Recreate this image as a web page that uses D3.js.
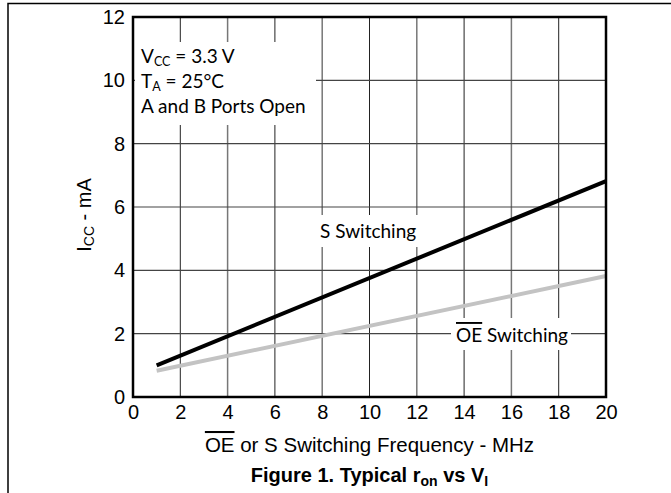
<!DOCTYPE html>
<html>
<head>
<meta charset="utf-8">
<script src="https://cdn.jsdelivr.net/npm/d3@7"></script>
<style>
  body { margin: 0; background: #fff; }
  svg { display: block; }
</style>
</head>
<body>
<div id="chart"></div>
<script>
// Data
const freq = [1, 20];                 // MHz
const sSwitching = [1.0, 6.82];       // mA
const oeSwitching = [0.83, 3.82];     // mA
const xTicks = [0, 2, 4, 6, 8, 10, 12, 14, 16, 18, 20];
const yTicks = [0, 2, 4, 6, 8, 10, 12];

const width = 671, height = 493;
const margin = { top: 17, right: 65, bottom: 96, left: 133 };

const svg = d3.select('#chart').append('svg')
    .attr('width', width)
    .attr('height', height);

// outer frame (top and left only)
svg.append('path')
    .attr('d', `M8,${height} L8,3.5 L${width},3.5`)
    .attr('fill', 'none')
    .attr('stroke', '#000')
    .attr('stroke-width', 1.5);

const x = d3.scaleLinear().domain([0, 20]).range([margin.left, width - margin.right]);
const y = d3.scaleLinear().domain([0, 12]).range([height - margin.bottom, margin.top]);

const sans = 'Liberation Sans, Arial, sans-serif';
const cal = 'Lato, Open Sans, sans-serif';

// grid
const grid = svg.append('g');
grid.selectAll('line.v')
    .data(xTicks.slice(1, -1))
    .enter().append('line')
    .attr('x1', d => x(d)).attr('x2', d => x(d))
    .attr('y1', y(0)).attr('y2', y(12))
    .attr('stroke', (d, i) => i % 2 ? '#777' : '#222')
    .attr('stroke-width', (d, i) => i % 2 ? 1.5 : 1);
grid.selectAll('line.h')
    .data(yTicks.slice(1, -1))
    .enter().append('line')
    .attr('x1', x(0)).attr('x2', x(20))
    .attr('y1', d => y(d)).attr('y2', d => y(d))
    .attr('stroke', '#444')
    .attr('stroke-width', 1.2);

// data lines
const line = d3.line().x(d => x(d[0])).y(d => y(d[1]));
svg.append('path')
    .datum(freq.map((f, i) => [f, oeSwitching[i]]))
    .attr('d', line)
    .attr('fill', 'none')
    .attr('stroke', '#c3c3c3')
    .attr('stroke-width', 4);
svg.append('path')
    .datum(freq.map((f, i) => [f, sSwitching[i]]))
    .attr('d', line)
    .attr('fill', 'none')
    .attr('stroke', '#000')
    .attr('stroke-width', 4);

// white boxes behind annotations
svg.append('rect').attr('x', x(0) + 2).attr('y', 42).attr('width', 181).attr('height', 83).attr('fill', '#fff');
svg.append('rect').attr('x', 316).attr('y', 215).attr('width', 104).attr('height', 32).attr('fill', '#fff');
svg.append('rect').attr('x', 451).attr('y', 318).attr('width', 120).attr('height', 32).attr('fill', '#fff');

// plot frame
svg.append('rect')
    .attr('x', x(0)).attr('y', y(12))
    .attr('width', x(20) - x(0)).attr('height', y(0) - y(12))
    .attr('fill', 'none')
    .attr('stroke', '#000')
    .attr('stroke-width', 2.5);

// axes
const xAxis = svg.append('g')
    .attr('transform', `translate(0,${y(0)})`)
    .call(d3.axisBottom(x).tickValues(xTicks).tickSize(0).tickPadding(8));
const yAxis = svg.append('g')
    .attr('transform', `translate(${x(0)},0)`)
    .call(d3.axisLeft(y).tickValues(yTicks).tickSize(0).tickPadding(8));
[xAxis, yAxis].forEach(a => {
    a.select('.domain').remove();
    a.selectAll('text')
        .attr('font-family', sans)
        .attr('font-size', 20)
        .attr('fill', '#000');
});

// y axis title
const yt = svg.append('text')
    .attr('transform', `translate(91,${(y(0) + y(12)) / 2 + 8}) rotate(-90)`)
    .attr('text-anchor', 'middle')
    .attr('font-family', sans)
    .attr('font-size', 20);
yt.append('tspan').text('I');
yt.append('tspan').text('CC').attr('font-size', 14).attr('dy', 3);
yt.append('tspan').text(' - mA').attr('dy', -3);

// x axis title
const xt = svg.append('text')
    .attr('x', (x(0) + x(20)) / 2)
    .attr('y', 452)
    .attr('text-anchor', 'middle')
    .attr('font-family', sans)
    .attr('font-size', 20.5);
xt.append('tspan').text('OE').style('text-decoration', 'overline');
xt.append('tspan').text(' or S Switching Frequency - MHz');

// caption
const cap = svg.append('text')
    .attr('x', (x(0) + x(20)) / 2)
    .attr('y', 482)
    .attr('text-anchor', 'middle')
    .attr('font-family', sans)
    .attr('font-weight', 'bold')
    .attr('font-size', 20);
cap.append('tspan').text('Figure 1. Typical r');
cap.append('tspan').text('on').attr('font-size', 14).attr('dy', 4);
cap.append('tspan').text(' vs V').attr('dy', -4);
cap.append('tspan').text('I').attr('font-size', 14).attr('dy', 4);

// conditions annotation
const ann = svg.append('g').attr('font-family', cal).attr('font-size', 19).attr('fill', '#000');
const a1 = ann.append('text').attr('x', 141).attr('y', 63);
a1.append('tspan').text('V');
a1.append('tspan').text('CC').attr('font-size', 12.5).attr('dy', 3);
a1.append('tspan').text(' = 3.3 V').attr('dy', -3);
const a2 = ann.append('text').attr('x', 141).attr('y', 88);
a2.append('tspan').text('T');
a2.append('tspan').text('A').attr('font-size', 12.5).attr('dy', 3);
a2.append('tspan').text(' = 25°C').attr('dy', -3);
ann.append('text').attr('x', 141).attr('y', 113).text('A and B Ports Open');

// series labels
ann.append('text').attr('x', 320).attr('y', 238).text('S Switching');
const oe = ann.append('text').attr('x', 456).attr('y', 342);
oe.append('tspan').text('OE').style('text-decoration', 'overline');
oe.append('tspan').text(' Switching');
</script>
</body>
</html>
